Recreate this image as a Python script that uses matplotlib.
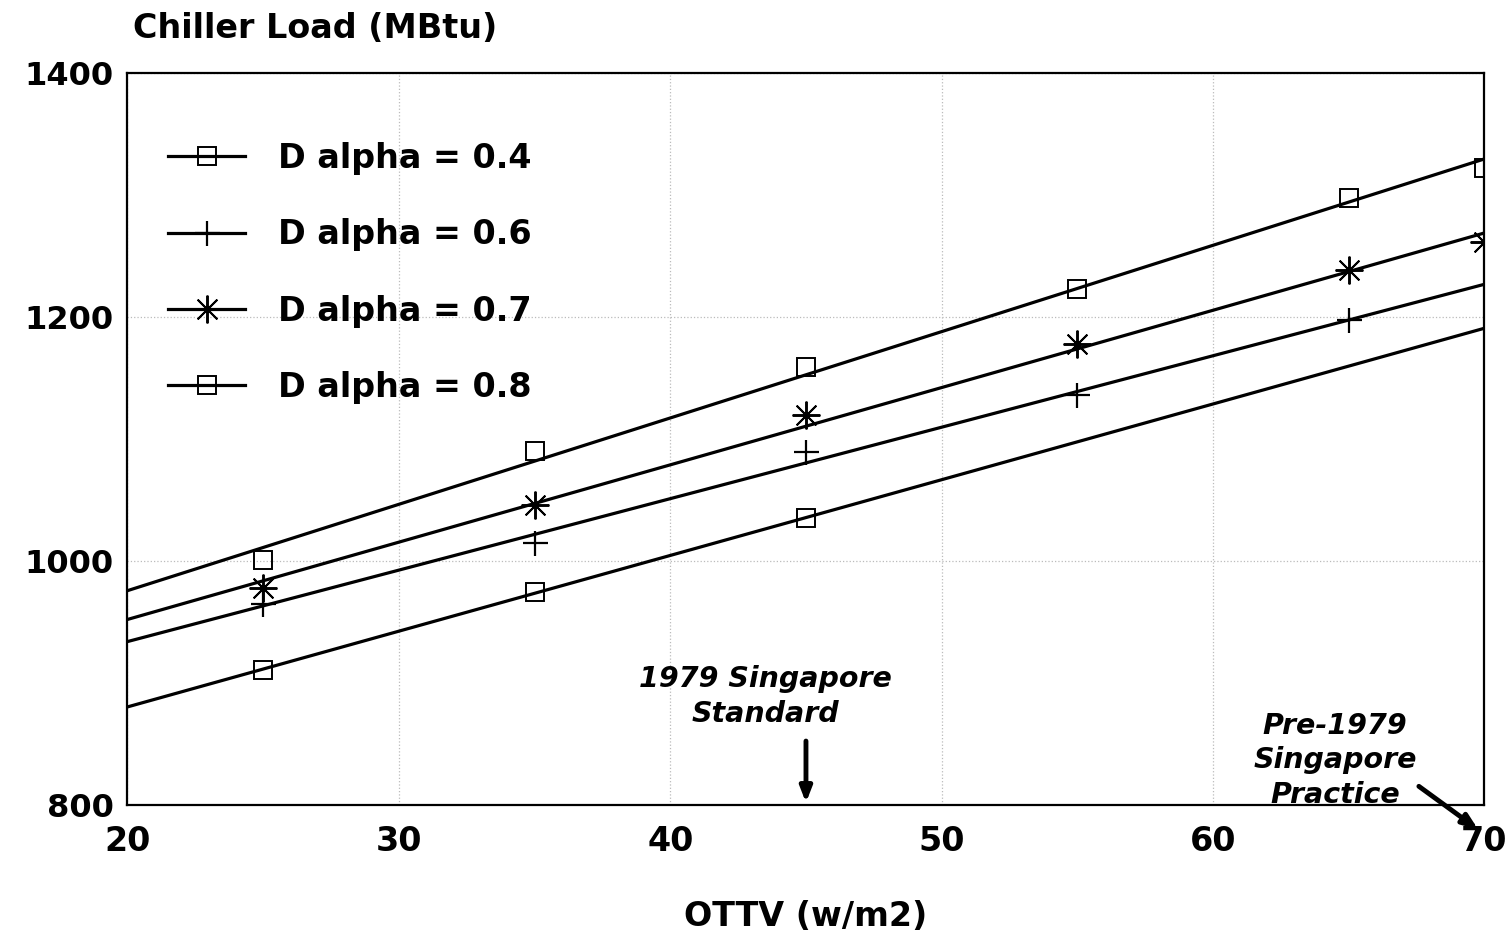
import numpy as np
import matplotlib
matplotlib.use("Agg")
import matplotlib.pyplot as plt
from matplotlib.lines import Line2D

# ---- data ----
ottv_all = [25, 35, 45, 55, 65, 70]
load_a04 = [911, 975, 1035]                       # D alpha = 0.4 (OTTV 25-45)
load_a06 = [965, 1015, 1089, 1136, 1197]          # D alpha = 0.6 (OTTV 25-65)
load_a07 = [978, 1046, 1120, 1178, 1238, 1261]    # D alpha = 0.7
load_a08 = [1001, 1090, 1159, 1223, 1297, 1322]   # D alpha = 0.8
labels = ["D alpha = 0.4", "D alpha = 0.6", "D alpha = 0.7", "D alpha = 0.8"]
fit_range = [20, 70]
xticks = [20, 30, 40, 50, 60, 70]
yticks = [800, 1000, 1200, 1400]

plt.rcParams['font.family'] = ['DejaVu Sans']

fig = plt.figure(figsize=(15.12, 9.38), dpi=100)
ax = fig.add_axes([0.0843, 0.1413, 0.8975, 0.7814])

series = [
    (load_a04, 's', 13, 1.4),
    (load_a06, '+', 18, 1.6),
    (load_a07, (8, 2, 0), 20, 1.4),
    (load_a08, 's', 13, 1.4),
]

handles = []
for (vals, mk, ms, mew), lab in zip(series, labels):
    xs = ottv_all[:len(vals)]
    coef = np.polyfit(xs, vals, 1)
    fx = np.array(fit_range, dtype=float)
    ax.plot(fx, np.polyval(coef, fx), color='black', lw=2.3, solid_capstyle='butt', zorder=3)
    ax.plot(xs, vals, linestyle='none', marker=mk, markersize=ms,
            markerfacecolor='none', markeredgecolor='black', markeredgewidth=mew, zorder=4)
    handles.append(Line2D([], [], color='black', lw=2.3, marker=mk, markersize=ms,
                          markerfacecolor='none', markeredgecolor='black', markeredgewidth=mew))

ax.set_xlim(20, 70)
ax.set_ylim(800, 1400)
ax.set_xticks(xticks)
ax.set_yticks(yticks)
ax.tick_params(axis='both', length=0)
ax.tick_params(axis='x', labelsize=24, pad=14)
ax.tick_params(axis='y', labelsize=23, pad=10)
for t in ax.get_xticklabels() + ax.get_yticklabels():
    t.set_fontweight('bold')
ax.grid(True, color='#bbbbbb', linestyle=':', linewidth=0.9)
for sp in ax.spines.values():
    sp.set_linewidth(1.6)

ax.set_xlabel("OTTV (w/m2)", fontsize=24, fontweight='bold', labelpad=30)
fig.text(133 / 1512, 1 - 28 / 938, "Chiller Load (MBtu)", fontsize=24,
         fontweight='bold', ha='left', va='center')

leg = ax.legend(handles, labels, loc='upper left', bbox_to_anchor=(0.03, 0.905),
                frameon=False, fontsize=24, handlelength=2.3, handletextpad=1.0,
                labelspacing=1.3, borderpad=0, borderaxespad=0)
for t in leg.get_texts():
    t.set_fontweight('bold')

ax.annotate("", xy=(45, 800), xytext=(45, 855),
            arrowprops=dict(arrowstyle='-|>,head_length=0.9,head_width=0.35',
                            color='black', lw=3.5), annotation_clip=False)
ax.text(43.5, 889, "1979 Singapore\nStandard", fontsize=20.5, fontweight='bold',
        style='italic', ha='center', va='center', linespacing=1.3)

ax.text(64.5, 837, "Pre-1979\nSingapore\nPractice", fontsize=20.5, fontweight='bold',
        style='italic', ha='center', va='center', linespacing=1.3)
ax.annotate("", xy=(69.85, 779), xytext=(67.5, 817),
            arrowprops=dict(arrowstyle='-|>,head_length=0.9,head_width=0.35',
                            color='black', lw=3.5), annotation_clip=False)

fig.savefig("out.png", dpi=100)
